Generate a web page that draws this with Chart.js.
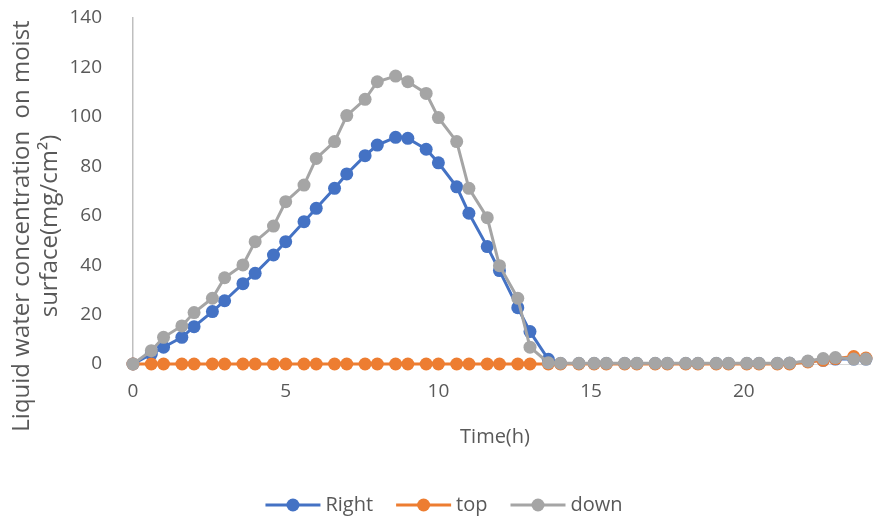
<!DOCTYPE html>
<html>
<head>
<meta charset="utf-8">
<script src="https://cdn.jsdelivr.net/npm/chart.js@4.4.0/dist/chart.umd.min.js"></script>
<style>
  html, body { margin: 0; padding: 0; background: #fff; }
</style>
</head>
<body>
<canvas id="moistChart" width="877" height="519"></canvas>
<script>
// sampling times (h)
const hours = [0, 0.6, 1, 1.6, 2, 2.6, 3, 3.6, 4, 4.6, 5, 5.6, 6, 6.6, 7, 7.6, 8, 8.6, 9, 9.6,
    10, 10.6, 11, 11.6, 12, 12.6, 13, 13.6, 14, 14.6, 15.1, 15.5, 16.1, 16.5, 17.1, 17.5,
    18.1, 18.5, 19.1, 19.5, 20.1, 20.5, 21.1, 21.5, 22.1, 22.6, 23, 23.6, 24];

// liquid water concentration (mg/cm2) per surface
const rightValues = [0, 4, 6.8, 10.8, 15.1, 21.2, 25.6, 32.5, 36.7, 44.1, 49.5, 57.6, 63, 71.1, 76.9, 84.3, 88.6, 91.7, 91.3, 86.9,
    81.4, 71.7, 61, 47.5, 37.8, 22.8, 13.1, 1.9, 0.2, 0.2, 0.2, 0.2, 0.2, 0.2, 0.2, 0.2,
    0.2, 0.2, 0.2, 0.2, 0.2, 0.2, 0.2, 0.3, 1, 1.5, 2, 2, 2];
const topValues = [0, 0, 0, 0, 0, 0, 0, 0, 0, 0, 0, 0, 0, 0, 0, 0, 0, 0, 0, 0,
    0, 0, 0, 0, 0, 0, 0, 0, 0, 0, 0, 0, 0, 0, 0, 0,
    0, 0, 0, 0, 0, 0, 0, 0, 0.8, 1.5, 2.2, 3, 2.4];
const downValues = [0, 5.4, 10.8, 15.4, 20.8, 26.6, 34.9, 40.1, 49.5, 55.8, 65.7, 72.4, 83.2, 90, 100.5, 107.1, 114.2, 116.5, 114.2, 109.5,
    99.7, 90, 71.1, 59.2, 39.8, 26.6, 6.8, 0.5, 0.3, 0.3, 0.3, 0.3, 0.3, 0.3, 0.3, 0.3,
    0.3, 0.3, 0.3, 0.3, 0.3, 0.3, 0.3, 0.4, 1.2, 2.2, 2.6, 2, 2];

const seriesNames = ['Right', 'top', 'down'];
const xTickValues = [0, 5, 10, 15, 20];
const xTitle = 'Time(h)';
const yTitle = ['Liquid water concentration  on moist', 'surface(mg/cm\u00B2)'];

const textColor = '#595959';
const fontFamily = '"Open Sans", "Noto Sans", sans-serif';

function toPoints(values) {
    return hours.map((h, i) => ({ x: h, y: values[i] }));
}

function makeSeries(label, values, color, order) {
    return {
        label: label,
        data: toPoints(values),
        borderColor: color,
        backgroundColor: color,
        borderWidth: 3,
        pointRadius: 6.5,
        pointHoverRadius: 6.5,
        pointBorderWidth: 0,
        showLine: true,
        clip: false,
        order: order
    };
}

// axis titles and the legend at the bottom
const chartText = {
    id: 'chartText',
    afterDraw(chart) {
        const ctx = chart.ctx;
        ctx.save();
        ctx.fillStyle = textColor;
        ctx.textAlign = 'center';
        ctx.textBaseline = 'middle';
        ctx.font = '20px ' + fontFamily;
        ctx.fillText(xTitle, 495, 437);

        ctx.save();
        ctx.font = '24px ' + fontFamily;
        ctx.translate(22, 226);
        ctx.rotate(-Math.PI / 2);
        yTitle.forEach((line, i) => ctx.fillText(line, 0, i * 28));
        ctx.restore();

        // legend: line with a marker, then the name
        const lineLen = 55, gap = 5, itemGap = 23, y = 505;
        const items = chart.data.datasets.map(ds => ({
            ds: ds,
            w: lineLen + gap + ctx.measureText(ds.label).width
        }));
        const total = items.reduce((s, it) => s + it.w, 0) + itemGap * (items.length - 1);
        let x = 444 - total / 2;
        ctx.textAlign = 'left';
        items.forEach(it => {
            ctx.strokeStyle = it.ds.borderColor;
            ctx.lineWidth = 3;
            ctx.beginPath();
            ctx.moveTo(x, y);
            ctx.lineTo(x + lineLen, y);
            ctx.stroke();
            ctx.fillStyle = it.ds.backgroundColor;
            ctx.beginPath();
            ctx.arc(x + lineLen / 2, y, 6.5, 0, Math.PI * 2);
            ctx.fill();
            ctx.fillStyle = textColor;
            ctx.fillText(it.ds.label, x + lineLen + gap, y);
            x += it.w + itemGap;
        });
        ctx.restore();
    }
};

const ctx = document.getElementById('moistChart').getContext('2d');
const moistChart = new Chart(ctx, {
    type: 'scatter',
    data: {
        datasets: [
            makeSeries(seriesNames[0], rightValues, '#4472C4', 2),
            makeSeries(seriesNames[1], topValues, '#ED7D31', 1),
            makeSeries(seriesNames[2], downValues, '#A5A5A5', 0)
        ]
    },
    options: {
        responsive: false,
        animation: false,
        layout: { padding: { top: 18, right: 0, bottom: 0, left: 0 } },
        plugins: {
            legend: { display: false },
            tooltip: { enabled: false }
        },
        scales: {
            x: {
                type: 'linear',
                min: 0,
                max: 24.15,
                afterBuildTicks: scale => { scale.ticks = xTickValues.map(v => ({ value: v })); },
                afterFit: scale => {
                    scale.height = 155;
                    scale.paddingLeft = 0;
                    scale.paddingRight = 0;
                },
                grid: { display: false },
                border: { display: true, color: '#D9D9D9', width: 1 },
                ticks: {
                    padding: 8,
                    color: textColor,
                    font: { family: fontFamily, size: 19 }
                }
            },
            y: {
                min: 0,
                max: 140,
                afterFit: scale => {
                    scale.width = 133;
                    // keep the tick padding from pushing the plot down
                    scale.paddingTop = 0;
                    scale.paddingBottom = 0;
                },
                grid: { display: false },
                border: { display: true, color: '#BFBFBF', width: 1.5 },
                ticks: {
                    stepSize: 20,
                    padding: 23,
                    color: textColor,
                    font: { family: fontFamily, size: 19 }
                }
            }
        }
    },
    plugins: [chartText]
});
</script>
</body>
</html>
